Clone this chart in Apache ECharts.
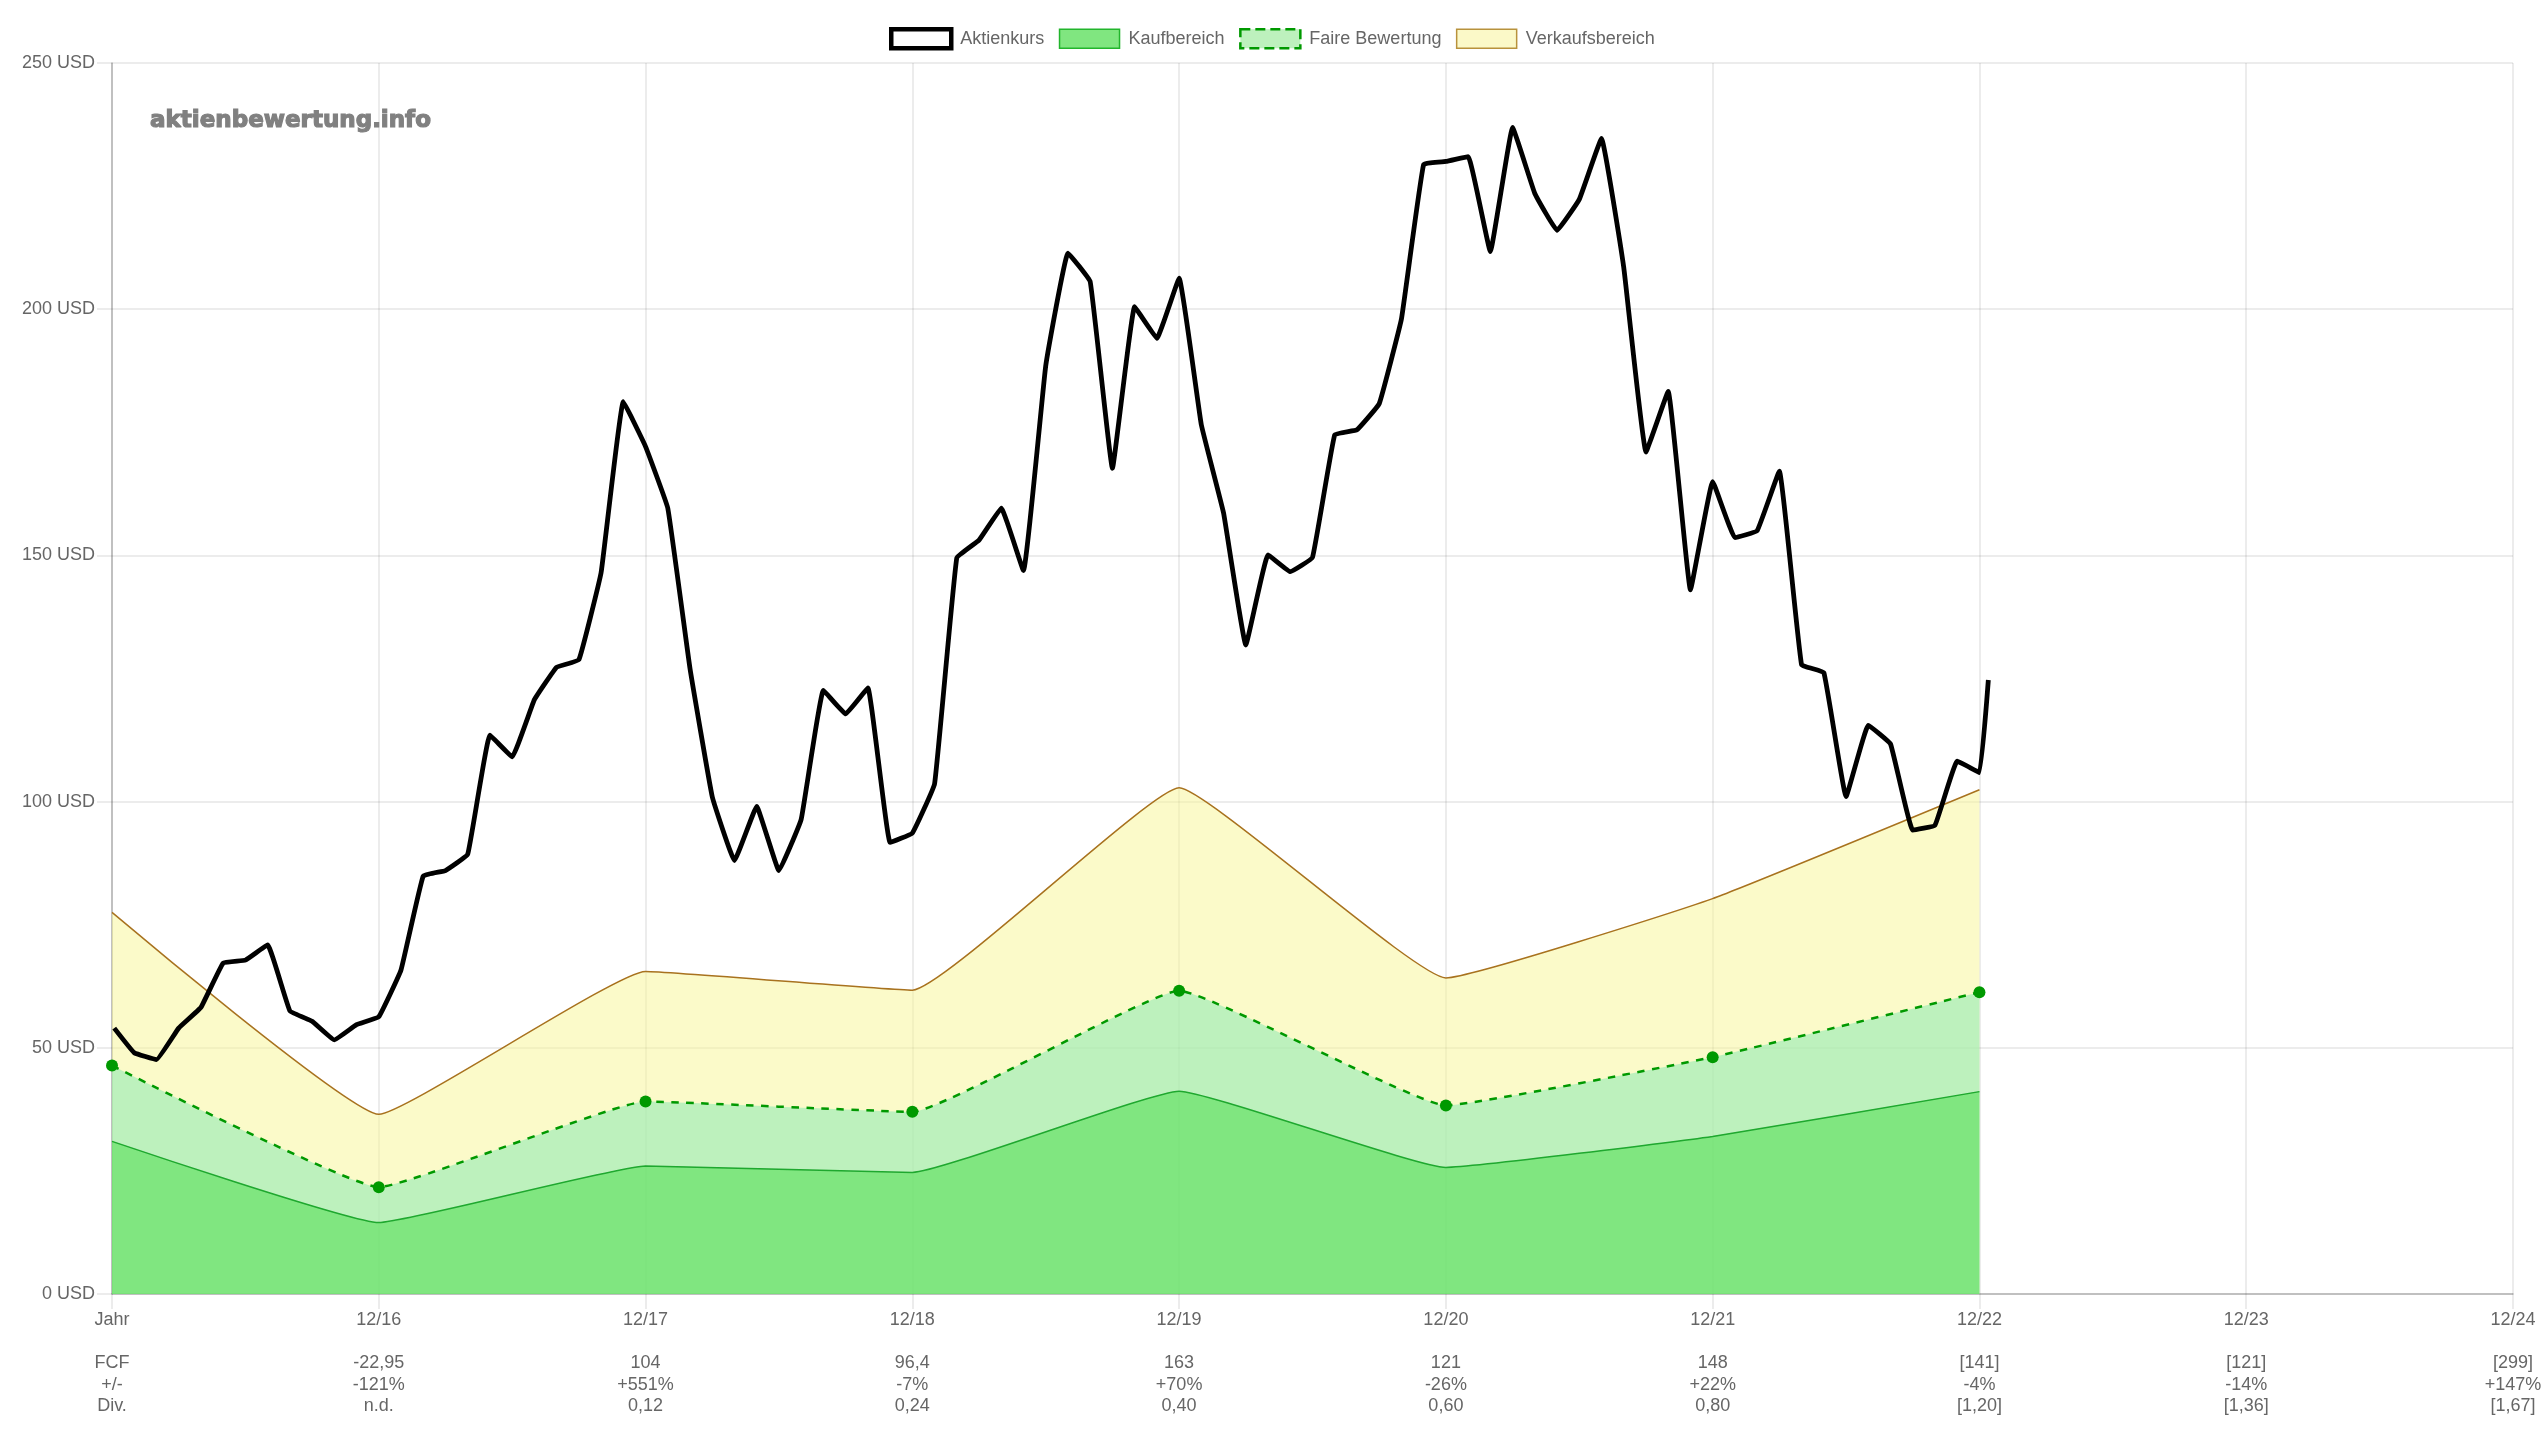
<!DOCTYPE html>
<html>
<head>
<meta charset="utf-8">
<title>Aktienbewertung</title>
<script src="https://cdn.jsdelivr.net/npm/echarts@6/dist/echarts.min.js"></script>
<style>
    html, body { margin: 0; padding: 0; background: #fff; }
    #chart { width: 2545px; height: 1441px; }
</style>
</head>
<body>
<div id="chart"></div>
<script>
// x axis columns, one per year
const years = ['Jahr', '12/16', '12/17', '12/18', '12/19', '12/20', '12/21', '12/22', '12/23', '12/24'];
const fcf = ['FCF', '-22,95', '104', '96,4', '163', '121', '148', '[141]', '[121]', '[299]'];
const change = ['+/-', '-121%', '+551%', '-7%', '+70%', '-26%', '+22%', '-4%', '-14%', '+147%'];
const dividend = ['Div.', 'n.d.', '0,12', '0,24', '0,40', '0,60', '0,80', '[1,20]', '[1,36]', '[1,67]'];

// months since the left edge of the axis
const priceMonths = [
    0.1, 1, 2, 3, 4, 5, 6, 7, 8, 9, 10, 11,
    12, 13, 14, 15, 16, 17, 18, 19, 20, 21, 22, 23,
    24, 25, 26, 27, 28, 29, 30, 31, 32, 33, 34, 35,
    36, 37, 38, 39, 40, 41, 42, 43, 44, 45, 46, 47,
    48, 49, 50, 51, 52, 53, 54, 55, 56, 57, 58, 59,
    60, 61, 62, 63, 64, 65, 66, 67, 68, 69, 70, 71,
    72, 73, 74, 75, 76, 77, 78, 79, 80, 81, 82, 83,
    84, 84.4
];
const priceValues = [
    54, 49, 47.6, 54, 58.2, 67.2, 67.8, 70.9, 57.5, 55.4, 51.6, 54.7,
    56.3, 65.8, 84.9, 86, 89.3, 113.5, 109.1, 120.7, 127.3, 128.8, 146.5, 181.2,
    172.1, 159.6, 127, 101, 88, 99, 86, 96.4, 122.6, 117.8, 123.1, 91.7,
    93.6, 103.6, 149.5, 153.1, 159.6, 146.9, 188.5, 211.4, 205.6, 167.7, 200.5, 194.1,
    206.3, 176.5, 158.6, 131.8, 150.1, 146.7, 149.6, 174.5, 175.5, 180.8, 198, 229.4,
    230, 231, 211.7, 236.9, 223.5, 216, 222.3, 234.7, 208.5, 171, 183.3, 143,
    165, 153.6, 155, 167.1, 127.8, 126.2, 101, 115.5, 111.7, 94.2, 95.2, 108.2,
    105.9, 124.7
];

const valuationMonths = [0, 12, 24, 36, 48, 60, 72, 84];
const buyValues = [31, 14.5, 26, 24.7, 41.2, 25.7, 32, 41.1];
const fairValues = [46.4, 21.7, 39.1, 37, 61.6, 38.3, 48.1, 61.3];
const sellValues = [77.5, 36.5, 65.5, 61.7, 102.8, 64.2, 80.3, 102.4];

const pairs = (xs, ys) => ys.map((y, i) => [xs[i], y]);

const gridColor = 'rgba(0,0,0,0.1)';
const zeroColor = 'rgba(0,0,0,0.25)';
const textColor = '#666';
const fontFamily = '"Liberation Sans", Arial, sans-serif';

const chart = echarts.init(document.getElementById('chart'));

chart.setOption({
    animation: false,
    textStyle: { fontFamily: fontFamily },
    title: {
        text: 'aktienbewertung.info',
        left: 145,
        top: 105,
        textStyle: {
            color: '#808080',
            fontFamily: '"DejaVu Sans", sans-serif',
            fontSize: 23,
            fontWeight: 'bold',
            textBorderColor: '#808080',
            textBorderWidth: 1.2
        }
    },
    legend: {
        left: 884,
        top: 22,
        itemWidth: 60,
        itemHeight: 19,
        itemGap: 14.5,
        icon: 'rect',
        selectedMode: false,
        textStyle: { color: textColor, fontSize: 18, fontFamily: fontFamily, padding: [0, 0, 0, 4] },
        data: [
            { name: 'Aktienkurs', itemStyle: { color: '#fff', borderColor: '#000', borderWidth: 4.5 } },
            { name: 'Kaufbereich', itemStyle: { color: '#80e680', borderColor: '#22b52c', borderWidth: 1.5 } },
            { name: 'Faire Bewertung', itemStyle: { color: '#bdf1bd', borderColor: '#009900', borderWidth: 2.5, borderType: 'dashed' } },
            { name: 'Verkaufsbereich', itemStyle: { color: '#fbf9c8', borderColor: '#b8923c', borderWidth: 1.5 } }
        ]
    },
    grid: { left: 112, top: 63, right: 32, bottom: 147 },
    xAxis: {
        type: 'value',
        min: 0,
        max: 108,
        interval: 12,
        axisLine: { show: true, onZero: false, lineStyle: { color: zeroColor, width: 1.5 } },
        axisTick: { show: true, length: 15, lineStyle: { color: gridColor, width: 1.5 } },
        splitLine: { show: true, lineStyle: { color: gridColor, width: 1.5 } },
        axisLabel: {
            color: textColor,
            fontSize: 18,
            lineHeight: 21.6,
            margin: 15,
            formatter: function (value) {
                const i = value / 12;
                return [years[i], '', fcf[i], change[i], dividend[i]].join('\n');
            }
        }
    },
    yAxis: {
        type: 'value',
        min: 0,
        max: 250,
        interval: 50,
        axisLine: { show: true, lineStyle: { color: zeroColor, width: 1.5 } },
        axisTick: { show: true, length: 15, lineStyle: { color: gridColor, width: 1.5 } },
        splitLine: { show: true, lineStyle: { color: gridColor, width: 1.5 } },
        axisLabel: { color: textColor, fontSize: 18, margin: 17, formatter: '{value} USD' }
    },
    series: [
        {
            name: 'Verkaufsbereich',
            type: 'line',
            smooth: 0.1,
            symbol: 'none',
            data: pairs(valuationMonths, sellValues),
            lineStyle: { color: '#a8721f', width: 1.5 },
            itemStyle: { color: '#a8721f' },
            areaStyle: { color: 'rgba(248,246,148,0.5)', opacity: 1 }
        },
        {
            name: 'Faire Bewertung',
            type: 'line',
            smooth: 0.1,
            symbol: 'circle',
            symbolSize: 12,
            data: pairs(valuationMonths, fairValues),
            lineStyle: { color: '#009900', width: 2.5, type: [7.5, 7.5] },
            itemStyle: { color: '#009900' },
            areaStyle: { color: 'rgba(127,233,178,0.5)', opacity: 1 }
        },
        {
            name: 'Kaufbereich',
            type: 'line',
            smooth: 0.1,
            symbol: 'none',
            data: pairs(valuationMonths, buyValues),
            lineStyle: { color: '#1fa82f', width: 1.5 },
            itemStyle: { color: '#1fa82f' },
            areaStyle: { color: 'rgba(67,219,67,0.5)', opacity: 1 }
        },
        {
            name: 'Aktienkurs',
            type: 'line',
            z: 3,
            smooth: 0.08,
            symbol: 'none',
            data: pairs(priceMonths, priceValues),
            lineStyle: { color: '#000', width: 4.8, join: 'round' },
            itemStyle: { color: '#000' }
        }
    ]
});
</script>
</body>
</html>
